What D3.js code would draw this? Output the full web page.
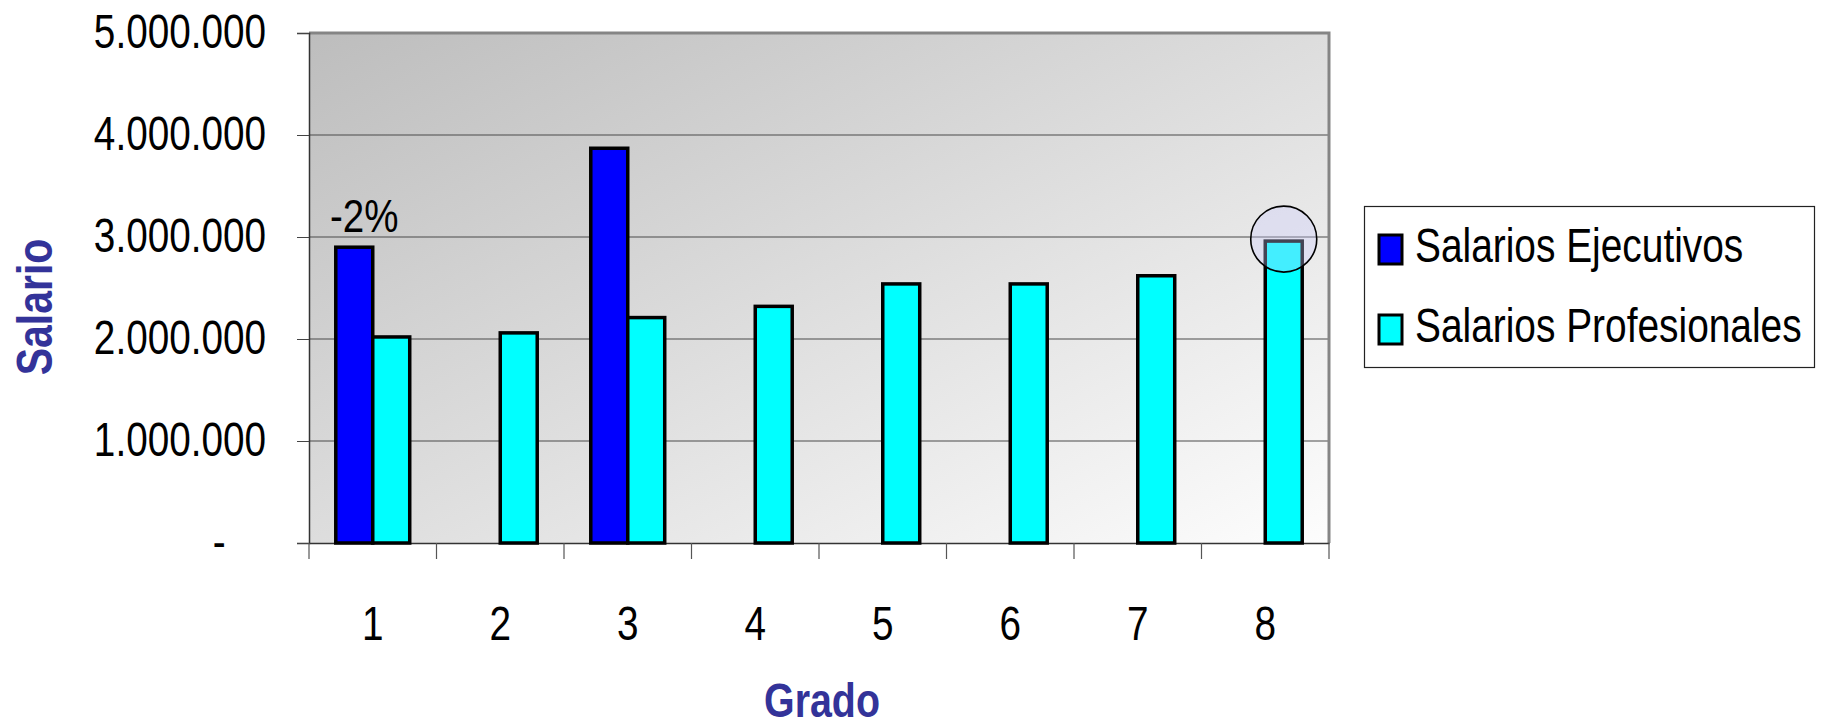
<!DOCTYPE html>
<html>
<head>
<meta charset="utf-8">
<script src="https://cdn.jsdelivr.net/npm/d3@7"></script>
<style>
  body { margin: 0; background: #fff; }
  text { font-family: "Liberation Sans", Arial, sans-serif; }
</style>
</head>
<body>
<svg id="chart" width="1823" height="727"></svg>
<script>
// data
let grados = ['1', '2', '3', '4', '5', '6', '7', '8'];
let ejecutivos = [2900000, null, 3870000, null, null, null, null, null];
let profesionales = [2020000, 2060000, 2210000, 2320000, 2540000, 2540000, 2620000, 2960000];
let yTicks = [0, 1000000, 2000000, 3000000, 4000000, 5000000];
let series = ['Salarios Ejecutivos', 'Salarios Profesionales'];
let colors = ['#0000ff', '#00ffff'];
let nota = {grado: '1', texto: '-2%'};
let resaltado = '8';

// the original uses a narrow face; squeeze Liberation Sans around the anchor x
function narrow(k){
  return function(sel){
    sel.attr('transform', function(){
      let x = +d3.select(this).attr('x') || 0;
      return `translate(${x},0) scale(${k},1) translate(${-x},0)`;
    });
  };
}

let chart = {};

chart.init = function(){
  let svg = d3.select('#chart');
  let plot = {left: 309, right: 1329, top: 33, bottom: 543};

  svg.sx = d3.scaleBand()
  .domain(grados)
  .range([plot.left, plot.right]);

  svg.sy = d3.scaleLinear()
  .domain([0, 5000000])
  .range([plot.bottom, plot.top]);

  this.svg = svg;
  this.plot = plot;

  this.drawBackground();
  this.drawAxes();
  this.drawBars();
  this.drawLegend();
  return svg;
};

chart.drawBackground = function(){
  let svg = this.svg, p = this.plot;
  let grad = svg.append('defs').append('linearGradient')
  .attr('id', 'bg')
  .attr('x1', 0).attr('y1', 0).attr('x2', 1).attr('y2', 1);
  grad.append('stop').attr('offset', '0%').attr('stop-color', '#bdbdbd');
  grad.append('stop').attr('offset', '100%').attr('stop-color', '#fdfdfd');

  svg.append('rect')
  .attr('x', p.left).attr('y', p.top)
  .attr('width', p.right-p.left).attr('height', p.bottom-p.top)
  .attr('fill', 'url(#bg)');

  svg.selectAll('.grid')
  .data(yTicks.slice(1))
  .enter()
  .append('line')
  .attr('class', 'grid')
  .attr('x1', p.left).attr('x2', p.right)
  .attr('y1', d=>svg.sy(d)).attr('y2', d=>svg.sy(d))
  .attr('stroke', '#4a4a4a')
  .attr('stroke-width', 1.2);

  // frame: grey top and right, like the excel plot area
  svg.append('path')
  .attr('d', `M${p.left},${p.top}H${p.right}V${p.bottom}`)
  .attr('fill', 'none')
  .attr('stroke', '#858585')
  .attr('stroke-width', 3);
};

chart.drawAxes = function(){
  let svg = this.svg, p = this.plot;

  let yAxis = d3.axisLeft(svg.sy)
  .tickValues(yTicks)
  .tickSize(12)
  .tickPadding(31)
  .tickFormat(d => d === 0 ? '-' : d3.format(',')(d).replace(/,/g, '.'));

  let gy = svg.append('g')
  .attr('transform', `translate(${p.left},0)`)
  .call(yAxis);
  gy.select('.domain').attr('stroke', '#333').attr('stroke-width', 1.5);
  gy.selectAll('.tick line').attr('stroke', '#444');
  gy.selectAll('.tick text')
  .attr('font-size', 49)
  .attr('fill', '#000')
  .attr('dy', '0.3em')
  .attr('dx', d => d === 0 ? -51 : 0)
  .call(narrow(0.79));

  let xAxis = d3.axisBottom(svg.sx).tickSize(0).tickPadding(62);
  let gx = svg.append('g')
  .attr('transform', `translate(0,${p.bottom})`)
  .call(xAxis);
  gx.select('.domain').attr('stroke', '#333').attr('stroke-width', 1.5);
  gx.selectAll('.tick text')
  .attr('font-size', 49)
  .attr('fill', '#000')
  .call(narrow(0.79));

  // ticks between categories
  let bounds = grados.map(g => svg.sx(g)).concat([p.right]);
  svg.selectAll('.xtick')
  .data(bounds)
  .enter()
  .append('line')
  .attr('class', 'xtick')
  .attr('x1', d=>d).attr('x2', d=>d)
  .attr('y1', p.bottom).attr('y2', p.bottom+16)
  .attr('stroke', '#555')
  .attr('stroke-width', 1.2);

  svg.append('text')
  .attr('x', (p.left+p.right)/2+3)
  .attr('y', 717)
  .attr('text-anchor', 'middle')
  .attr('font-size', 48)
  .attr('font-weight', 'bold')
  .attr('fill', '#333399')
  .text('Grado')
  .call(narrow(0.82));

  svg.append('text')
  .attr('transform', 'translate(52,307) rotate(-90) scale(0.82,1)')
  .attr('text-anchor', 'middle')
  .attr('font-size', 50)
  .attr('font-weight', 'bold')
  .attr('fill', '#333399')
  .text('Salario');
};

chart.drawBars = function(){
  let svg = this.svg;
  let barW = svg.sx.bandwidth()*0.29;
  let center = g => svg.sx(g) + svg.sx.bandwidth()/2;

  let rows = [];
  grados.forEach((g,i)=>{
    if(ejecutivos[i] !== null) rows.push({g: g, v: ejecutivos[i], s: 0});
    if(profesionales[i] !== null) rows.push({g: g, v: profesionales[i], s: 1});
  });

  svg.selectAll('.bar')
  .data(rows)
  .enter()
  .append('rect')
  .attr('class', 'bar')
  .attr('x', d => d.s === 0 ? center(d.g)-barW : center(d.g))
  .attr('y', d => svg.sy(d.v))
  .attr('width', barW)
  .attr('height', d => svg.sy(0)-svg.sy(d.v))
  .attr('fill', d => colors[d.s])
  .attr('stroke', '#000')
  .attr('stroke-width', 3.5);

  let iN = grados.indexOf(nota.grado);
  svg.append('text')
  .attr('x', center(nota.grado)-barW/2+10)
  .attr('y', svg.sy(ejecutivos[iN])-15)
  .attr('text-anchor', 'middle')
  .attr('font-size', 47)
  .attr('fill', '#000')
  .text(nota.texto)
  .call(narrow(0.82));

  let iR = grados.indexOf(resaltado);
  svg.append('circle')
  .attr('cx', center(resaltado)+barW/2)
  .attr('cy', svg.sy(profesionales[iR])-2)
  .attr('r', 33)
  .attr('fill', '#ccccff')
  .attr('fill-opacity', 0.33)
  .attr('stroke', '#000')
  .attr('stroke-width', 1.6);
};

chart.drawLegend = function(){
  let svg = this.svg;
  let lg = svg.append('g').attr('transform', 'translate(1364,206)');

  lg.append('rect')
  .attr('x', 0.5).attr('y', 0.5)
  .attr('width', 450).attr('height', 161)
  .attr('fill', '#fff')
  .attr('stroke', '#222')
  .attr('stroke-width', 1.2);

  let items = lg.selectAll('.item')
  .data(series)
  .enter()
  .append('g')
  .attr('class', 'item')
  .attr('transform', (_,i) => `translate(0,${29+i*80})`);

  items.append('rect')
  .attr('x', 15).attr('y', 0)
  .attr('width', 23).attr('height', 29)
  .attr('fill', (_,i) => colors[i])
  .attr('stroke', '#000')
  .attr('stroke-width', 3);

  items.append('text')
  .attr('x', 51).attr('y', 27)
  .attr('font-size', 48)
  .attr('fill', '#000')
  .text(d => d)
  .call(narrow(0.81));
};

chart.init();
</script>
</body>
</html>
